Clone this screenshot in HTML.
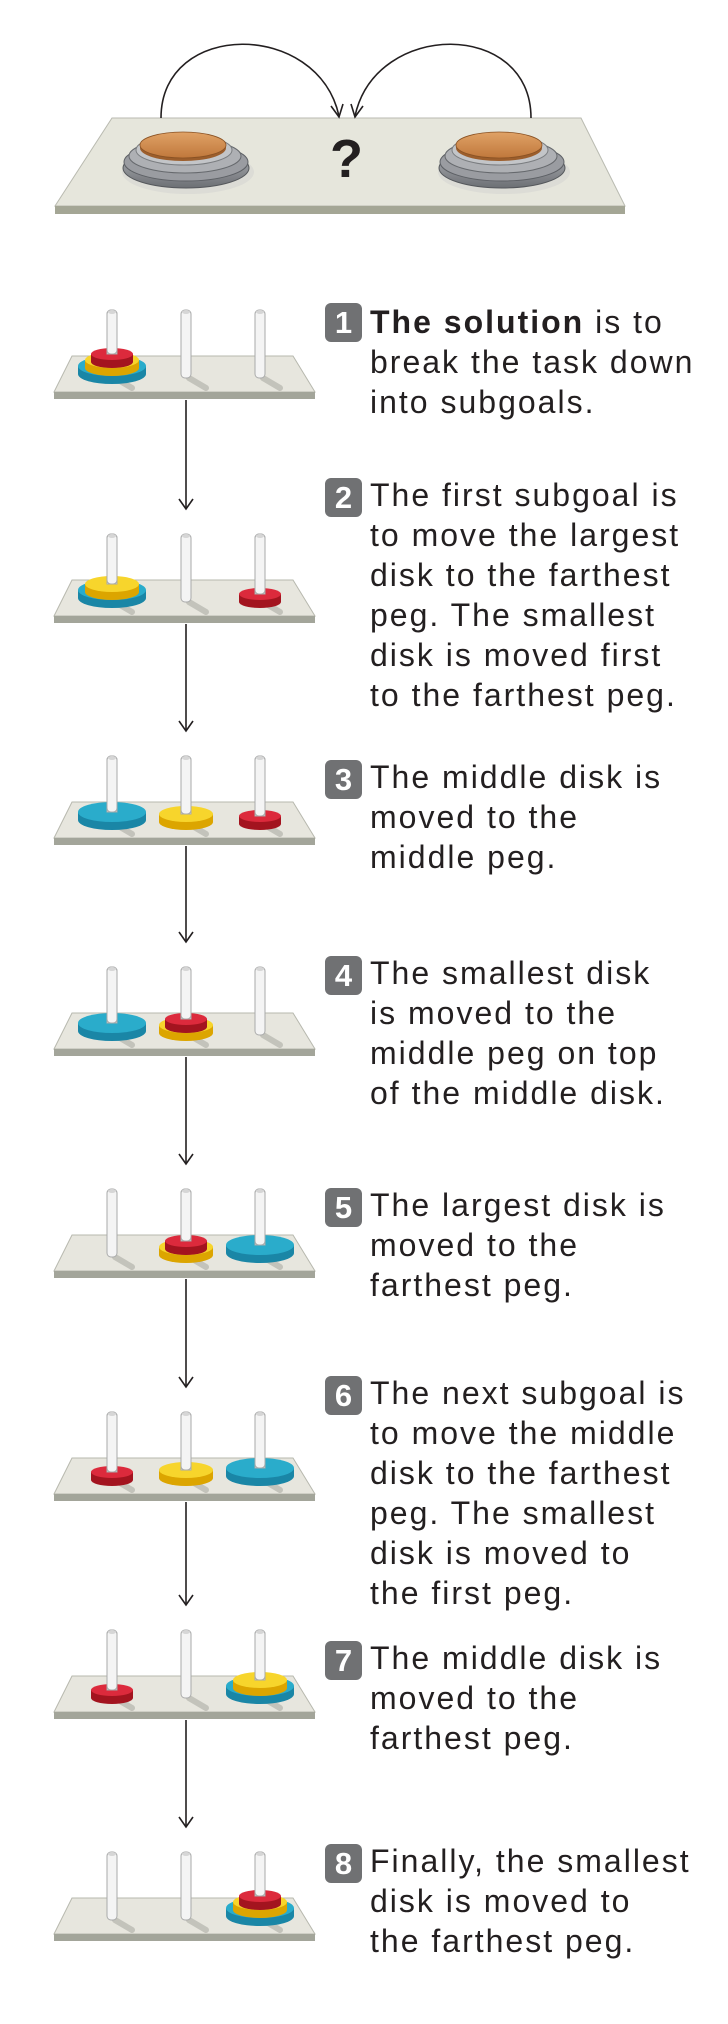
<!DOCTYPE html>
<html><head><meta charset="utf-8">
<style>
html,body{margin:0;padding:0;background:#fff;}
body{width:728px;height:2024px;position:relative;overflow:hidden;font-family:"Liberation Sans",Arial,sans-serif;}
svg{position:absolute;left:0;top:0;}
.t{position:absolute;left:370px;font-size:32px;line-height:40px;color:#231f20;letter-spacing:2px;white-space:nowrap;}
.b{position:absolute;left:325px;width:37px;height:39px;border-radius:6px;background:#707173;color:#fff;font-weight:bold;font-size:31px;line-height:39px;text-align:center;}
.q{position:absolute;left:330px;top:128px;font-size:54px;font-weight:bold;color:#231f20;}
</style></head><body>
<svg id="s" width="728" height="2024" viewBox="0 0 728 2024">
<defs>
<linearGradient id="cop" x1="0" y1="0" x2="0" y2="1"><stop offset="0" stop-color="#e0a266"/><stop offset="1" stop-color="#c0783c"/></linearGradient>
<linearGradient id="sil" x1="0" y1="0" x2="0" y2="1"><stop offset="0" stop-color="#b7b9bd"/><stop offset="1" stop-color="#6c6f74"/></linearGradient>
</defs>
<polygon points="112,118 581,118 625,206 55,206" fill="#e6e6dc" stroke="#b9bab0" stroke-width="1"/>
<rect x="55" y="206" width="570" height="8" fill="#a4a695"/>
<path d="M161,118 C161,20 318,20 339,116" fill="none" stroke="#231f20" stroke-width="1.6"/>
<path d="M531,118 C531,20 376,20 355,116" fill="none" stroke="#231f20" stroke-width="1.6"/>
<path d="M331,106 L339,117 L343,104" fill="none" stroke="#231f20" stroke-width="1.6"/>
<path d="M363,106 L355,117 L351,104" fill="none" stroke="#231f20" stroke-width="1.6"/>
<g id="coinL">
<ellipse cx="188" cy="172" rx="66" ry="22" fill="#d9d9d4" opacity="0.8"/>
<ellipse cx="186" cy="168" rx="63" ry="20" fill="url(#sil)" stroke="#55585c"/>
<ellipse cx="186" cy="162" rx="62" ry="19" fill="#9a9ca1" stroke="#5d6065"/>
<ellipse cx="185" cy="156" rx="56" ry="17" fill="#aeb0b4" stroke="#66696d"/>
<ellipse cx="184" cy="150" rx="48" ry="15" fill="#c3c5c8" stroke="#7a7d80"/>
<ellipse cx="183" cy="148" rx="43" ry="13" fill="#9c5e2c"/>
<ellipse cx="183" cy="145" rx="43" ry="13" fill="url(#cop)" stroke="#8a5224" stroke-width="0.8"/>
</g>
<use href="#coinL" transform="translate(316,0)"/>
</svg>

<div class="q">?</div>

<div class="b" style="top:303px">1</div>
<div class="t" style="top:302px"><b>The solution</b> is to<br>break the task down<br>into subgoals.</div>

<div class="b" style="top:478px">2</div>
<div class="t" style="top:475px">The first subgoal is<br>to move the largest<br>disk to the farthest<br>peg. The smallest<br>disk is moved first<br>to the farthest peg.</div>

<div class="b" style="top:760px">3</div>
<div class="t" style="top:757px">The middle disk is<br>moved to the<br>middle peg.</div>

<div class="b" style="top:956px">4</div>
<div class="t" style="top:953px">The smallest disk<br>is moved to the<br>middle peg on top<br>of the middle disk.</div>

<div class="b" style="top:1188px">5</div>
<div class="t" style="top:1185px">The largest disk is<br>moved to the<br>farthest peg.</div>

<div class="b" style="top:1376px">6</div>
<div class="t" style="top:1373px">The next subgoal is<br>to move the middle<br>disk to the farthest<br>peg. The smallest<br>disk is moved to<br>the first peg.</div>

<div class="b" style="top:1641px">7</div>
<div class="t" style="top:1638px">The middle disk is<br>moved to the<br>farthest peg.</div>

<div class="b" style="top:1844px">8</div>
<div class="t" style="top:1841px">Finally, the smallest<br>disk is moved to<br>the farthest peg.</div>

<script>
(function(){
var s=document.getElementById('s');
var out='';
var B=[400,624,846,1057,1279,1502,1720,1942];
var px=[112,186,260];
var D={L:[34,'#2aaccb','#1a86a6'],M:[27,'#f7d52c','#dca500'],S:[21,'#dc2a3c','#a3141f']};
var cfg=[
 [['L','M','S'],[],[]],
 [['L','M'],[],['S']],
 [['L'],['M'],['S']],
 [['L'],['M','S'],[]],
 [[],['M','S'],['L']],
 [['S'],['M'],['L']],
 [['S'],[],['L','M']],
 [[],[],['L','M','S']]
];
for(var i=0;i<8;i++){
 var b=B[i],tp=b-44;
 out+='<polygon points="72,'+tp+' 293,'+tp+' 315,'+(b-8)+' 54,'+(b-8)+'" fill="#e7e6de" stroke="#b7b8ae" stroke-width="1"/>';
 out+='<rect x="54" y="'+(b-8)+'" width="261" height="7" fill="#a3a59a"/>';
 for(var p=0;p<3;p++){
  var x=px[p],st=cfg[i][p];
  out+='<path d="M'+(x+3)+','+(b-22)+' L'+(x+20)+','+(b-12)+'" stroke="#c3c3bb" stroke-width="6" stroke-linecap="round"/>';
  out+='<rect x="'+(x-5)+'" y="'+(b-90)+'" width="10" height="'+(90-22)+'" rx="4" fill="#f4f4f4" stroke="#a9aaaa" stroke-width="1"/>';
  out+='<ellipse cx="'+x+'" cy="'+(b-88)+'" rx="4" ry="2" fill="#d6d6d6"/>';
  for(var k=0;k<st.length;k++){
   var d=D[st[k]],rx=d[0],ry=Math.round(rx*0.3),yb=b-16-k*8,yt=yb-8;
   out+='<ellipse cx="'+x+'" cy="'+(yb-ry)+'" rx="'+rx+'" ry="'+ry+'" fill="'+d[2]+'"/>';
   out+='<rect x="'+(x-rx)+'" y="'+(yt-ry)+'" width="'+(2*rx)+'" height="'+(yb-yt)+'" fill="'+d[2]+'"/>';
   out+='<ellipse cx="'+x+'" cy="'+(yt-ry)+'" rx="'+rx+'" ry="'+ry+'" fill="'+d[1]+'"/>';
   out+='<rect x="'+(x-5)+'" y="'+(yt-ry-20)+'" width="10" height="20" fill="#f4f4f4" stroke="#a9aaaa" stroke-width="1"/>';
  }
  if(st.length){ out+='<rect x="'+(x-5)+'" y="'+(b-90)+'" width="10" height="'+(b-16-(st.length-1)*8-8-Math.round(D[st[st.length-1]][0]*0.3)-(b-90))+'" rx="4" fill="#f4f4f4" stroke="#a9aaaa" stroke-width="1"/>';
   out+='<ellipse cx="'+x+'" cy="'+(b-88)+'" rx="4" ry="2" fill="#d6d6d6"/>';}
 }
 if(i<7){
  var tip=B[i+1]-90-25;
  out+='<line x1="186" y1="'+b+'" x2="186" y2="'+tip+'" stroke="#231f20" stroke-width="1.6"/>';
  out+='<path d="M179,'+(tip-10)+' L186,'+tip+' L193,'+(tip-10)+'" fill="none" stroke="#231f20" stroke-width="1.6"/>';
 }
}
s.insertAdjacentHTML('beforeend',out);
})();
</script>
</body></html>
